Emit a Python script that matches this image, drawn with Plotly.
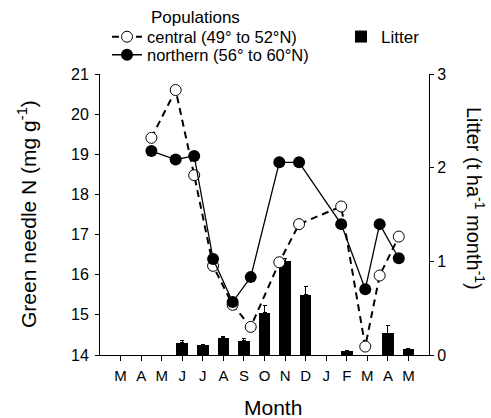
import plotly.graph_objects as go

# ---------------- data ----------------
months = ["M", "A", "M", "J", "J", "A", "S", "O", "N", "D", "J", "F", "M", "A", "M"]
month_pos = list(range(len(months)))

# sampling dates (in month-index units, 0 = first May)
sample_x = [1.5, 2.68, 3.58, 4.5, 5.45, 6.33, 7.72, 8.68, 10.73, 11.9, 12.6, 13.53]
central_n = [19.41, 20.6, 18.48, 16.22, 15.25, 14.70, 16.31, 17.26, 17.70, 14.21, 15.98, 16.95]
northern_n = [19.08, 18.87, 18.96, 16.39, 15.32, 15.94, 18.80, 18.80, 17.26, 15.64, 17.26, 16.41]

litter_x = [3, 4, 5, 6, 7, 8, 9, 11, 13, 14]
litter = [0.13, 0.107, 0.185, 0.153, 0.45, 1.0, 0.644, 0.043, 0.23, 0.064]
litter_err = [0.02, 0.005, 0.01, 0.025, 0.08, 0.035, 0.09, 0.01, 0.08, 0.005]

FONT = "Liberation Sans, Arial, Helvetica, sans-serif"

# plot-area pixel geometry
W, H = 491, 418
ML, MR, MT, MB = 100, 62, 74, 63
PW, PH = W - ML - MR, H - MT - MB


def px(x):
    return (x - ML) / PW


def py(y):
    return (H - MB - y) / PH


fig = go.Figure()

fig.add_trace(go.Bar(
    x=litter_x, y=litter, width=0.57,
    marker=dict(color="black", line=dict(width=0)),
    error_y=dict(type="data", array=litter_err, arrayminus=[0] * len(litter_err),
                 symmetric=False, color="black", thickness=1, width=2),
    name="Litter", legend="legend3", yaxis="y", showlegend=True,
))

fig.add_trace(go.Scatter(
    x=sample_x, y=central_n, mode="lines+markers",
    line=dict(color="black", width=2, dash="7px,5px"),
    marker=dict(symbol="circle", size=11, color="white", line=dict(color="black", width=1)),
    name="central (49° to 52°N)", legend="legend", yaxis="y2", showlegend=True,
))

fig.add_trace(go.Scatter(
    x=sample_x, y=northern_n, mode="lines+markers",
    line=dict(color="black", width=1.3),
    marker=dict(symbol="circle", size=12, color="black", line=dict(color="black", width=0)),
    name="northern (56° to 60°N)", legend="legend2", yaxis="y2", showlegend=True,
))

axis_common = dict(showline=True, linecolor="black", linewidth=1, showgrid=False,
                   zeroline=False, ticks="outside", tickcolor="black", tickwidth=1)


def legend_style(size):
    return dict(font=dict(family=FONT, size=size, color="black"),
                bgcolor="rgba(0,0,0,0)", borderwidth=0,
                xanchor="left", yanchor="middle", xref="paper", yref="paper",
                itemclick=False, tracegroupgap=0, visible=True)


fig.update_layout(
    width=W, height=H,
    margin=dict(l=ML, r=MR, t=MT, b=MB, autoexpand=False),
    paper_bgcolor="white", plot_bgcolor="white",
    font=dict(family=FONT, color="black"),
    showlegend=True,
    bargap=0,
    xaxis=dict(range=[-1, 15], tickvals=month_pos, ticktext=months, ticklen=5,
               tickfont=dict(size=15), ticklabelstandoff=2, **axis_common),
    yaxis=dict(range=[0, 3], side="right", tickvals=[0, 1, 2, 3], ticklen=4,
               tickfont=dict(size=16), anchor="x", **axis_common),
    yaxis2=dict(range=[14, 21], side="left", overlaying="y", anchor="x",
                tickvals=list(range(14, 22)), ticklen=4, ticklabelstandoff=3,
                tickfont=dict(size=16), **axis_common),
    legend=dict(x=px(107), y=py(37), **legend_style(16.5)),
    legend2=dict(x=px(107), y=py(55), **legend_style(16.5)),
    legend3=dict(x=px(341), y=py(37), **legend_style(17)),
    annotations=[
        dict(text="Populations", x=px(149), y=py(18), xref="paper", yref="paper",
             xanchor="left", yanchor="middle", showarrow=False,
             font=dict(size=17)),
        dict(text="Green needle N (mg g<sup>-1</sup>)", x=px(27), y=py(214), xref="paper",
             yref="paper", xanchor="center", yanchor="middle", textangle=-90,
             showarrow=False, font=dict(size=21)),
        dict(text="Litter (t ha<sup>-1</sup> month<sup>-1</sup>)", x=px(476), y=py(198),
             xref="paper", yref="paper", xanchor="center", yanchor="middle",
             textangle=90, showarrow=False, font=dict(size=20)),
        dict(text="Month", x=px(273), y=py(407), xref="paper", yref="paper",
             xanchor="center", yanchor="middle", showarrow=False,
             font=dict(size=21)),
    ],
)

fig.write_html("out.html")
